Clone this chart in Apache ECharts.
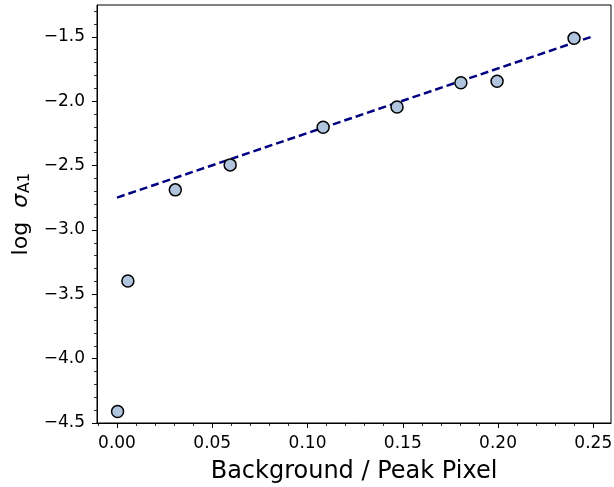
<!DOCTYPE html>
<html>
<head>
<meta charset="utf-8">
<script src="https://cdn.jsdelivr.net/npm/echarts@6/dist/echarts.min.js"></script>
<style>
html,body{margin:0;padding:0;background:#fff;}
#chart{width:614px;height:487px;}
</style>
</head>
<body>
<div id="chart"></div>
<script>
// Data
const xValues = [0.0003, 0.0057, 0.0306, 0.0594, 0.1082, 0.147, 0.1805, 0.1995, 0.2399];
const yValues = [-4.41, -3.397, -2.689, -2.495, -2.202, -2.045, -1.857, -1.845, -1.512];
const fitX = [0.0, 0.25];
const fitY = [-2.749, -1.495];

const xMajorTicks = [0, 0.05, 0.10, 0.15, 0.20, 0.25];
const xMinorTicks = [-0.01, 0.01, 0.02, 0.03, 0.04, 0.06, 0.07, 0.08, 0.09, 0.11, 0.12, 0.13, 0.14, 0.16, 0.17, 0.18, 0.19, 0.21, 0.22, 0.23, 0.24];
const yMajorTicks = [-4.5, -4.0, -3.5, -3.0, -2.5, -2.0, -1.5];
const yMinorTicks = [-4.4, -4.3, -4.2, -4.1, -3.9, -3.8, -3.7, -3.6, -3.4, -3.3, -3.2, -3.1, -2.9, -2.8, -2.7, -2.6, -2.4, -2.3, -2.2, -2.1, -1.9, -1.8, -1.7, -1.6, -1.4, -1.3];

const X_MIN = -0.0105, X_MAX = 0.2593, Y_MIN = -4.5, Y_MAX = -1.253;

const FONT = 'DejaVu Sans';
const scatterData = xValues.map((x, i) => [x, yValues[i]]);
const fitData = fitX.map((x, i) => [x, fitY[i]]);

const chart = echarts.init(document.getElementById('chart'), null, {renderer: 'canvas'});

const minus = v => String(v).replace('-', '\u2212');

chart.setOption({
  animation: false,
  backgroundColor: '#fff',
  grid: {
    left: 97, right: 3, top: 5, bottom: 64,
    containLabel: false,
    outerBoundsMode: 'none',
    show: true, borderColor: '#000', borderWidth: 1, backgroundColor: 'transparent'
  },
  xAxis: [
    {
      type: 'value', min: X_MIN, max: X_MAX, position: 'bottom',
      name: 'Background / Peak Pixel', nameLocation: 'middle', nameGap: 37,
      nameTextStyle: {fontFamily: FONT, fontSize: 24, color: '#000'},
      axisLine: {show: true, onZero: false, lineStyle: {color: '#000', width: 1}},
      axisTick: {show: true, inside: false, length: 5, lineStyle: {color: '#000', width: 1}, customValues: xMajorTicks},
      axisLabel: {show: true, margin: 12, fontFamily: FONT, fontSize: 17, color: '#000', customValues: xMajorTicks,
        formatter: v => minus(v.toFixed(2))},
      splitLine: {show: false}
    },
    {
      type: 'value', min: X_MIN, max: X_MAX, position: 'bottom',
      axisLine: {show: false, onZero: false},
      axisTick: {show: true, inside: false, length: 3, lineStyle: {color: '#000', width: 0.8}, customValues: xMinorTicks},
      axisLabel: {show: false},
      splitLine: {show: false}
    }
  ],
  yAxis: [
    {
      type: 'value', min: Y_MIN, max: Y_MAX, position: 'left',
      name: 'log  {s|σ}{sub|A1}', nameLocation: 'middle', nameGap: 64, nameRotate: 90,
      nameTextStyle: {fontFamily: FONT, fontSize: 22, color: '#000',
        rich: {
          s: {fontFamily: FONT, fontStyle: 'italic', fontSize: 22, color: '#000'},
          sub: {fontFamily: FONT, fontSize: 15.4, color: '#000', verticalAlign: 'bottom', padding: [9, 0, 0, 1]}
        }},
      axisLine: {show: true, onZero: false, lineStyle: {color: '#000', width: 1}},
      axisTick: {show: true, inside: false, length: 5, lineStyle: {color: '#000', width: 1}, customValues: yMajorTicks},
      axisLabel: {show: true, margin: 12, fontFamily: FONT, fontSize: 17, color: '#000', customValues: yMajorTicks,
        formatter: v => minus(v.toFixed(1))},
      splitLine: {show: false}
    },
    {
      type: 'value', min: Y_MIN, max: Y_MAX, position: 'left',
      axisLine: {show: false, onZero: false},
      axisTick: {show: true, inside: false, length: 3, lineStyle: {color: '#000', width: 0.8}, customValues: yMinorTicks},
      axisLabel: {show: false},
      splitLine: {show: false}
    }
  ],
  series: [
    {
      type: 'line', data: fitData, xAxisIndex: 0, yAxisIndex: 0,
      showSymbol: false, symbol: 'none',
      lineStyle: {color: '#000080', width: 2.5, type: [8, 4]},
      z: 2, silent: true
    },
    {
      type: 'scatter', data: scatterData, xAxisIndex: 0, yAxisIndex: 0,
      symbol: 'circle', symbolSize: 12,
      itemStyle: {color: '#b0c4de', borderColor: '#000', borderWidth: 1.5, opacity: 1},
      z: 3
    }
  ]
});
</script>
</body>
</html>
